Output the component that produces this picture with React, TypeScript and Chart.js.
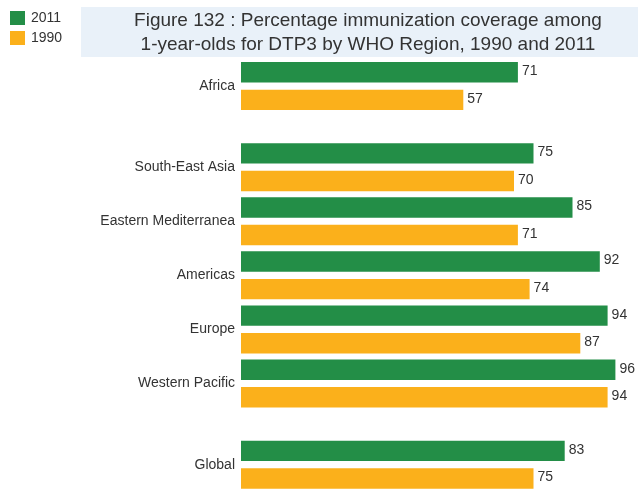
import React, { useEffect, useRef } from "react";
import { Chart, registerables } from "chart.js";

Chart.register(...registerables);

const categories = ["Africa", "South-East Asia", "Eastern Mediterranea", "Americas", "Europe", "Western Pacific", "Global"];
const positions = [0, 1.5, 2.5, 3.5, 4.5, 5.5, 7];
const values2011 = [71, 75, 85, 92, 94, 96, 83];
const values1990 = [57, 70, 71, 74, 87, 94, 75];
const seriesLabels = ["2011", "1990"];
const seriesColors = ["#238e47", "#fbb01b"];
const titleLines = [
  "Figure 132 : Percentage immunization coverage among",
  "1-year-olds for DTP3 by WHO Region, 1990 and 2011",
];

const FONT = "'Liberation Sans', Arial, sans-serif";
const TEXT = "#333333";

const decorPlugin = {
  id: "decor",
  beforeDraw(chart: any) {
    const ctx = chart.ctx;
    ctx.save();
    ctx.fillStyle = "#ffffff";
    ctx.fillRect(0, 0, chart.width, chart.height);
    // title box
    ctx.fillStyle = "#e9f1f9";
    ctx.fillRect(81, 7, chart.width - 81, 50);
    ctx.fillStyle = TEXT;
    ctx.font = `19px ${FONT}`;
    ctx.textAlign = "center";
    ctx.textBaseline = "middle";
    ctx.fillText(titleLines[0], 368, 21);
    ctx.fillText(titleLines[1], 368, 45);
    // legend
    ctx.textAlign = "left";
    ctx.font = `14px ${FONT}`;
    chart.data.datasets.forEach((ds: any, i: number) => {
      const y = 11 + i * 20;
      ctx.fillStyle = ds.backgroundColor;
      ctx.fillRect(10, y, 15, 14);
      ctx.fillStyle = TEXT;
      ctx.fillText(ds.label, 31, y + 7);
    });
    ctx.restore();
  },
  afterDatasetsDraw(chart: any) {
    const ctx = chart.ctx;
    ctx.save();
    ctx.font = `14px ${FONT}`;
    ctx.fillStyle = TEXT;
    ctx.textAlign = "left";
    ctx.textBaseline = "middle";
    chart.data.datasets.forEach((ds: any, di: number) => {
      const meta = chart.getDatasetMeta(di);
      meta.data.forEach((bar: any, i: number) => {
        const v = ds.data[i].x;
        ctx.fillText(String(v), bar.x + 4, bar.y - 1);
      });
    });
    ctx.restore();
  },
};

export default function App() {
  const ref = useRef<HTMLCanvasElement>(null);
  useEffect(() => {
    if (!ref.current) return;
    const mk = (vals: number[]) => vals.map((v, i) => ({ x: v, y: positions[i] }));
    const chart = new Chart(ref.current, {
      type: "bar",
      data: {
        datasets: [
          { label: seriesLabels[0], data: mk(values2011), backgroundColor: seriesColors[0], clip: false as any },
          { label: seriesLabels[1], data: mk(values1990), backgroundColor: seriesColors[1], clip: false as any },
        ],
      },
      options: {
        indexAxis: "y",
        responsive: false,
        animation: false,
        events: [],
        layout: { padding: { top: 59, right: 7, bottom: 0, left: 0 } },
        datasets: { bar: { categoryPercentage: 1.02, barPercentage: 0.74 } },
        plugins: { legend: { display: false }, title: { display: false }, tooltip: { enabled: false } },
        scales: {
          x: { type: "linear", min: 0, max: 100, display: false },
          y: {
            type: "linear",
            reverse: true,
            offset: false,
            min: -0.5,
            max: 7.45,
            afterBuildTicks: (scale: any) => {
              scale.ticks = positions.map((p) => ({ value: p }));
            },
            afterFit: (scale: any) => {
              scale.width = 241;
              scale.paddingTop = 0;
              scale.paddingBottom = 0;
            },
            grid: { display: false, drawTicks: false, offset: false },
            border: { display: false },
            ticks: {
              padding: 6,
              color: TEXT,
              font: { family: FONT, size: 14 },
              autoSkip: false,
              callback: (value: any) => {
                const idx = positions.indexOf(Number(value));
                return idx >= 0 ? categories[idx] : "";
              },
            },
          },
        },
      },
      plugins: [decorPlugin],
    });
    return () => chart.destroy();
  }, []);
  return (
    <div style={{ position: "fixed", left: 0, top: 0, width: 638, height: 489, background: "#fff" }}>
      <canvas ref={ref} width={638} height={489} style={{ display: "block" }} />
    </div>
  );
}
